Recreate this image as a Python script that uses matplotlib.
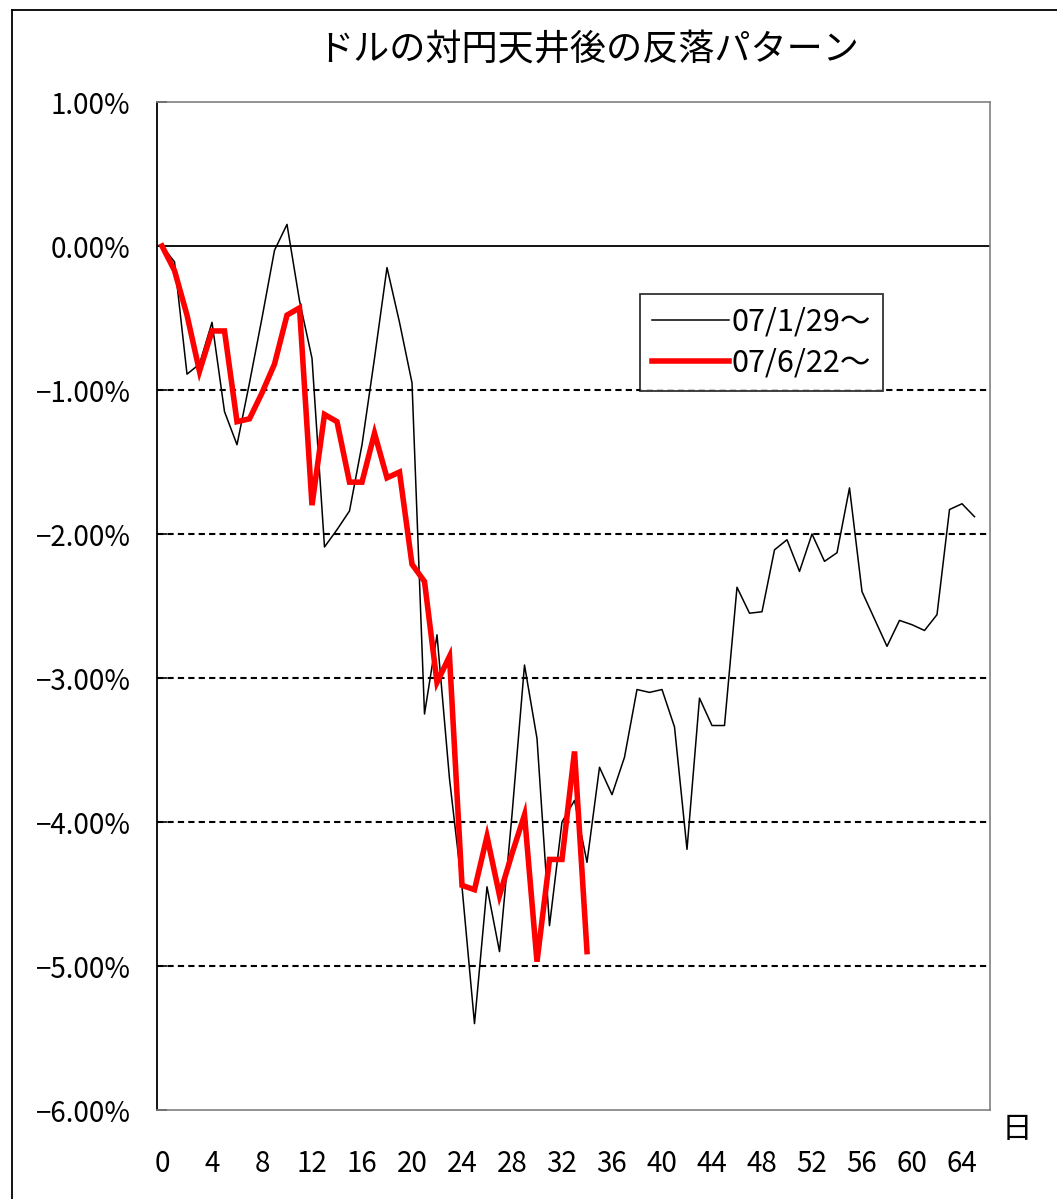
import numpy as np
import matplotlib
matplotlib.use("Agg")
import matplotlib.pyplot as plt
from matplotlib.ticker import FuncFormatter
from matplotlib.lines import Line2D

plt.rcParams['font.family'] = ['Noto Sans CJK JP', 'DejaVu Sans']

title = "ドルの対円天井後の反落パターン"
label_1 = "07/1/29～"
label_2 = "07/6/22～"

# 天井からの日数ごとの変化率 (%)
seria_1 = [0.00, -0.11, -0.89, -0.82, -0.53, -1.15, -1.38, -0.95, -0.50, -0.03,
           0.15, -0.38, -0.78, -2.09, -1.97, -1.84, -1.38, -0.78, -0.15, -0.53,
           -0.95, -3.25, -2.70, -3.70, -4.45, -5.40, -4.45, -4.90, -3.95, -2.91,
           -3.42, -4.72, -4.00, -3.85, -4.28, -3.62, -3.81, -3.55, -3.08, -3.10,
           -3.08, -3.34, -4.19, -3.14, -3.33, -3.33, -2.37, -2.55, -2.54, -2.11,
           -2.04, -2.26, -2.00, -2.19, -2.13, -1.68, -2.40, -2.59, -2.78, -2.60,
           -2.63, -2.67, -2.56, -1.83, -1.79, -1.88]
seria_2 = [0.00, -0.17, -0.48, -0.87, -0.59, -0.59, -1.22, -1.20, -1.02, -0.82,
           -0.48, -0.43, -1.80, -1.17, -1.22, -1.64, -1.64, -1.30, -1.61, -1.57,
           -2.21, -2.33, -3.03, -2.85, -4.44, -4.47, -4.10, -4.51, -4.22, -3.95,
           -4.97, -4.26, -4.26, -3.51, -4.90]

dni_1 = np.arange(len(seria_1))
dni_2 = np.arange(len(seria_2))
x_ticks = list(range(0, 65, 4))
y_ticks = [1, 0, -1, -2, -3, -4, -5, -6]

fig = plt.figure(figsize=(10.57, 11.99), dpi=100)
ax = fig.add_axes([157 / 1057, 1 - 1110 / 1199, (990 - 157) / 1057, (1110 - 102) / 1199])

for v in [-1, -2, -3, -4, -5]:
    ax.axhline(v, color="black", lw=1.5, linestyle=(0, (3.0, 2.0)), zorder=1)
ax.axhline(0, color="black", lw=1.3, zorder=1)

ax.plot(dni_1, seria_1, color="black", lw=1.1, label=label_1, zorder=3)
ax.plot(dni_2, seria_2, color="#ff0000", lw=4.0, label=label_2, zorder=4,
        solid_joinstyle="miter")

ax.set_xlim(-0.4, 66.24)
ax.set_ylim(-6, 1)
ax.set_xticks(x_ticks)
ax.set_yticks(y_ticks)
ax.yaxis.set_major_formatter(FuncFormatter(lambda v, p: ("%.2f%%" % v).replace("-", "−")))

for s in ["top", "right", "bottom"]:
    ax.spines[s].set_color("#808080")
    ax.spines[s].set_linewidth(1.2)
ax.spines["left"].set_color("black")
ax.spines["left"].set_linewidth(1.3)

ax.tick_params(axis="y", direction="in", length=7, width=1.2, color="black",
               labelsize=20, pad=19)
ax.tick_params(axis="x", length=0, labelsize=20, pad=28)

leg = ax.legend(loc="upper left", bbox_to_anchor=(640 / 1057, 1 - 294 / 1199),
                bbox_transform=fig.transFigure, fontsize=22, frameon=True,
                fancybox=False, shadow=False, borderpad=0.4, labelspacing=0.35,
                handlelength=2.5, handletextpad=0.1, borderaxespad=0)
leg.get_frame().set_edgecolor("black")
leg.get_frame().set_linewidth(1.3)

fig.text(588 / 1057, 1 - 50 / 1199, title, ha="center", va="center", fontsize=26)
fig.text(1017 / 1057, 1 - 1130 / 1199, "日", ha="center", va="center", fontsize=22)

fig.add_artist(Line2D([12 / 1057, 12 / 1057], [0, 1 - 10 / 1199], color="black", lw=1.3,
                      transform=fig.transFigure))
fig.add_artist(Line2D([12 / 1057, 1], [1 - 10 / 1199, 1 - 10 / 1199], color="black", lw=1.3,
                      transform=fig.transFigure))

plt.savefig("out.png", dpi=100)
